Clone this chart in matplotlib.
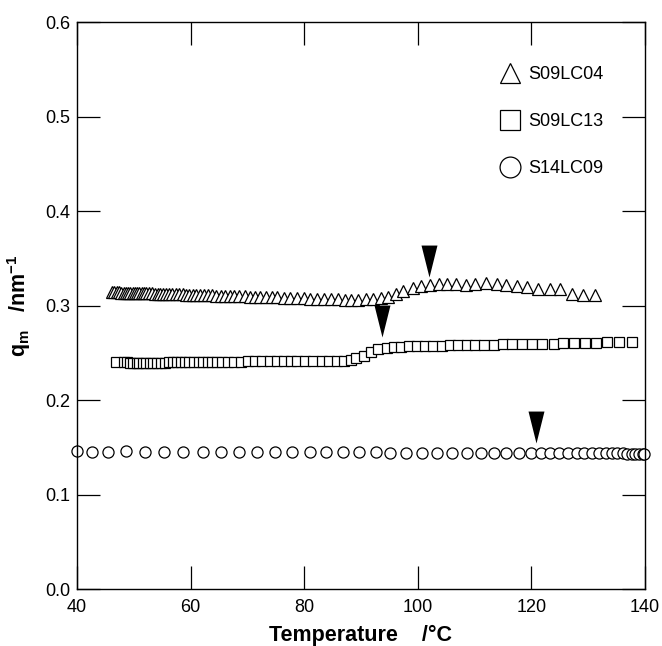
import numpy as np
import matplotlib
matplotlib.use("Agg")
import matplotlib.pyplot as plt
from matplotlib.lines import Line2D
from matplotlib.ticker import FormatStrFormatter

plt.rcParams['font.family'] = ['Liberation Sans', 'DejaVu Sans']
plt.rcParams['mathtext.fontset'] = 'custom'
plt.rcParams['mathtext.rm'] = 'Liberation Sans'
plt.rcParams['mathtext.bf'] = 'Liberation Sans:bold'
plt.rcParams['mathtext.it'] = 'Liberation Sans:italic'

# S09LC04 (triangles)
tri_x = [46.2, 46.6, 47.0, 47.4, 47.8, 48.2, 48.6, 49.0, 49.4, 49.8,
         50.2, 50.6, 51.0, 51.4, 51.8, 52.2, 52.7, 53.2, 53.7, 54.2,
         54.7, 55.2, 55.7, 56.2, 56.8, 57.4, 58.0, 58.6, 59.2, 59.8,
         60.4, 61.0, 61.7, 62.4, 63.1, 63.8, 64.5, 65.3, 66.1, 66.9,
         67.7, 68.6, 69.5, 70.4, 71.3, 72.3, 73.3, 74.3, 75.3, 76.4,
         77.5, 78.7, 79.9, 81.1, 82.3, 83.5, 84.7, 85.9, 87.1, 88.3,
         89.5, 90.8, 92.2, 93.5, 94.8, 96.2, 97.4, 99.1, 100.6, 102.1,
         103.7, 105.2, 106.8, 108.5, 110.1, 112.0, 113.9, 115.5, 117.4, 119.2,
         121.2, 123.2, 125.0, 127.1, 129.1, 131.2]
tri_y = [0.3140, 0.3140, 0.3138, 0.3138, 0.3136, 0.3136, 0.3135, 0.3135, 0.3134, 0.3134,
         0.3133, 0.3133, 0.3132, 0.3131, 0.3130, 0.3130, 0.3129, 0.3128, 0.3127, 0.3126,
         0.3125, 0.3124, 0.3123, 0.3122, 0.3121, 0.3120, 0.3118, 0.3117, 0.3116, 0.3115,
         0.3114, 0.3112, 0.3111, 0.3110, 0.3108, 0.3107, 0.3106, 0.3105, 0.3104, 0.3103,
         0.3101, 0.3099, 0.3097, 0.3095, 0.3093, 0.3091, 0.3089, 0.3087, 0.3085, 0.3083,
         0.3080, 0.3078, 0.3076, 0.3074, 0.3071, 0.3069, 0.3067, 0.3065, 0.3063, 0.3062,
         0.3062, 0.3064, 0.3065, 0.3075, 0.3095, 0.3125, 0.3150, 0.3185, 0.3205, 0.3220,
         0.3225, 0.3225, 0.3225, 0.3220, 0.3228, 0.3240, 0.3228, 0.3222, 0.3210, 0.3195,
         0.3170, 0.3175, 0.3175, 0.3125, 0.3115, 0.3115]

# S09LC13 (squares)
sq_x = [46.9, 48.3, 48.8, 49.4, 49.9, 50.5, 51.0, 51.6, 52.2, 52.8,
        53.4, 54.1, 54.8, 55.5, 56.2, 56.9, 57.6, 58.3, 59.0, 59.8,
        60.6, 61.4, 62.2, 63.0, 63.8, 64.7, 65.6, 66.6, 67.7, 68.9,
        70.1, 71.3, 72.6, 73.9, 75.2, 76.5, 77.6, 78.8, 80.1, 81.6,
        83.1, 84.4, 85.7, 87.0, 88.2, 89.2, 90.5, 91.7, 93.0, 94.5,
        95.8, 97.1, 98.5, 99.8, 101.3, 102.7, 104.2, 105.7, 107.1, 108.6,
        110.1, 111.7, 113.4, 115.0, 116.5, 118.3, 120.1, 121.8, 123.9, 125.6,
        127.5, 129.4, 131.4, 133.4, 135.5, 137.7]
sq_y = [0.2405, 0.2400, 0.2398, 0.2396, 0.2395, 0.2395, 0.2394, 0.2394, 0.2394, 0.2395,
        0.2395, 0.2396, 0.2396, 0.2397, 0.2398, 0.2398, 0.2399, 0.2400, 0.2400, 0.2401,
        0.2402, 0.2402, 0.2403, 0.2404, 0.2404, 0.2405, 0.2405, 0.2406, 0.2406, 0.2407,
        0.2408, 0.2408, 0.2409, 0.2410, 0.2410, 0.2411, 0.2412, 0.2412, 0.2413, 0.2413,
        0.2414, 0.2414, 0.2415, 0.2418, 0.2428, 0.2445, 0.2470, 0.2505, 0.2535, 0.2555,
        0.2563, 0.2566, 0.2568, 0.2570, 0.2572, 0.2573, 0.2575, 0.2577, 0.2578, 0.2580,
        0.2582, 0.2584, 0.2586, 0.2588, 0.2590, 0.2592, 0.2594, 0.2596, 0.2598, 0.2600,
        0.2603, 0.2605, 0.2608, 0.2610, 0.2612, 0.2615]

# S14LC09 (circles)
circ_x = [40.0, 42.6, 45.5, 48.7, 52.0, 55.4, 58.7, 62.1, 65.3, 68.5,
          71.7, 74.9, 77.8, 81.0, 83.9, 86.8, 89.7, 92.6, 95.1, 98.0,
          100.7, 103.4, 106.0, 108.6, 111.1, 113.4, 115.6, 117.8, 119.9, 121.7,
          123.3, 124.9, 126.5, 128.1, 129.3, 130.6, 131.9, 133.2, 134.2, 135.1,
          136.1, 136.9, 137.7, 138.3, 139.0, 139.6, 139.9]
circ_y = [0.1460, 0.1455, 0.1455, 0.1458, 0.1455, 0.1452, 0.1452, 0.1450, 0.1452, 0.1450,
          0.1448, 0.1448, 0.1450, 0.1448, 0.1447, 0.1445, 0.1446, 0.1445, 0.1443, 0.1444,
          0.1442, 0.1443, 0.1441, 0.1442, 0.1440, 0.1440, 0.1441, 0.1440, 0.1439, 0.1440,
          0.1439, 0.1438, 0.1438, 0.1437, 0.1437, 0.1436, 0.1436, 0.1436, 0.1435, 0.1435,
          0.1435, 0.1434, 0.1434, 0.1434, 0.1433, 0.1433, 0.1433]

# transition markers (tip position)
arrow_x = [102.0, 93.7, 120.8]
arrow_y = [0.330, 0.267, 0.154]

labels = ['S09LC04', 'S09LC13', 'S14LC09']

fig = plt.figure(figsize=(6.62, 6.46), dpi=100)
ax = fig.add_axes([0.1163, 0.0882, 0.858, 0.8777])

mk = dict(linestyle='none', markerfacecolor='white', markeredgecolor='black',
          markeredgewidth=0.9, clip_on=False)
ax.plot(tri_x, tri_y, marker='^', markersize=8.8, **mk)
ax.plot(sq_x, sq_y, marker='s', markersize=7, **mk)
ax.plot(circ_x, circ_y, marker='o', markersize=8, **mk)

# narrow downward pointer, tip at the data point
pointer = [(-0.25, 1.0), (0.25, 1.0), (0.0, 0.0), (-0.25, 1.0)]
ax.plot(arrow_x, arrow_y, linestyle='none', marker=pointer, markersize=46,
        color='black', markeredgewidth=0)

ax.set_xlim(40, 140)
ax.set_ylim(0.0, 0.6)
ax.set_xticks([40, 60, 80, 100, 120, 140])
ax.set_yticks(np.arange(0, 0.61, 0.1))
ax.yaxis.set_major_formatter(FormatStrFormatter('%.1f'))
ax.tick_params(direction='in', length=16.5, width=0.9, labelsize=13,
               top=True, right=True, pad=5)
ax.tick_params(axis='x', pad=7.5)
for s in ax.spines.values():
    s.set_linewidth(1.0)

ax.set_xlabel('Temperature    /°C', fontsize=15.5, fontweight='bold')
ax.set_ylabel(r'q$_\mathbf{m}$   /nm$^\mathbf{-1}$', fontsize=15.5, fontweight='bold')
ax.xaxis.set_label_coords(0.5, -0.063)
ax.yaxis.set_label_coords(-0.078, 0.5)

handles = [Line2D([], [], marker=m, markersize=15, **mk) for m in ['^', 's', 'o']]
ax.legend(handles, labels, loc='upper left', bbox_to_anchor=(0.746, 0.922),
          frameon=False, fontsize=13, handlelength=1.0, handletextpad=0.5,
          labelspacing=1.65, borderpad=0, borderaxespad=0, numpoints=1)

fig.savefig('out.png', dpi=100)
